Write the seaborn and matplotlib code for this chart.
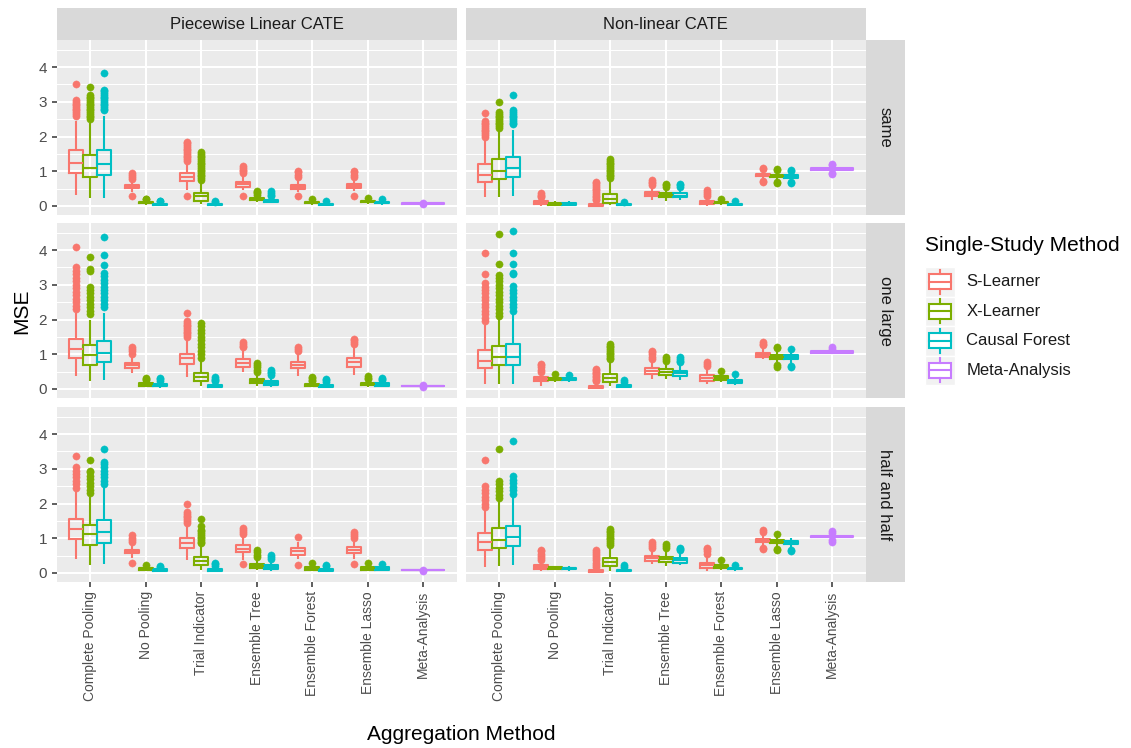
import numpy as np
import pandas as pd
import matplotlib
matplotlib.use("Agg")
import matplotlib.pyplot as plt
import seaborn as sns
from matplotlib.patches import Rectangle

plt.rcParams['font.family'] = ['Liberation Sans', 'DejaVu Sans']

methods = ["Complete Pooling", "No Pooling", "Trial Indicator", "Ensemble Tree",
           "Ensemble Forest", "Ensemble Lasso", "Meta-Analysis"]
learners = ["S-Learner", "X-Learner", "Causal Forest"]
cates = ["Piecewise Linear CATE", "Non-linear CATE"]
designs = ["same", "one large", "half and half"]
legend_labels = ["S-Learner", "X-Learner", "Causal Forest", "Meta-Analysis"]
palette = {"S-Learner": "#F8766D", "X-Learner": "#7CAE00",
           "Causal Forest": "#00BFC4", "Meta-Analysis": "#C77CFF"}

# Box statistics (lower whisker, Q1, median, Q3, upper whisker), order:
# CP-S, CP-X, CP-CF, NP-S, NP-X, NP-CF, TI-S, TI-X, TI-CF, ET-S, ET-X, ET-CF,
# EF-S, EF-X, EF-CF, EL-S, EL-X, EL-CF, Meta-Analysis
pw_same_box = [
    (0.33, 0.96, 1.25, 1.60, 2.45), (0.23, 0.83, 1.09, 1.48, 2.40), (0.23, 0.89, 1.22, 1.62, 2.60),
    (0.40, 0.51, 0.555, 0.60, 0.72), (0.04, 0.08, 0.10, 0.12, 0.17), (0.01, 0.04, 0.055, 0.07, 0.11),
    (0.45, 0.72, 0.83, 0.94, 1.25), (0.05, 0.15, 0.28, 0.37, 0.69), (0.01, 0.03, 0.045, 0.06, 0.10),
    (0.45, 0.55, 0.62, 0.69, 0.88), (0.12, 0.17, 0.20, 0.23, 0.30), (0.08, 0.12, 0.15, 0.18, 0.26),
    (0.40, 0.50, 0.555, 0.60, 0.74), (0.04, 0.08, 0.10, 0.12, 0.17), (0.01, 0.04, 0.055, 0.07, 0.11),
    (0.42, 0.52, 0.575, 0.62, 0.76), (0.06, 0.11, 0.13, 0.15, 0.20), (0.04, 0.08, 0.10, 0.12, 0.16),
    (0.066, 0.07, 0.072, 0.074, 0.078)]
pw_same_out = [
    [2.6, 2.65, 2.7, 2.75, 2.8, 2.85, 2.9, 2.95, 3.0, 3.05, 3.5],
    [2.5, 2.55, 2.6, 2.65, 2.7, 2.75, 2.8, 2.85, 2.9, 2.95, 3.0, 3.05, 3.1, 3.15, 3.2, 3.44],
    [2.75, 2.8, 2.85, 2.9, 2.95, 3.0, 3.05, 3.1, 3.15, 3.2, 3.25, 3.3, 3.35, 3.82],
    [0.3, 0.78, 0.84, 0.9, 0.96], [0.19, 0.21], [0.13, 0.15],
    [0.3, 1.3, 1.35, 1.4, 1.45, 1.5, 1.55, 1.6, 1.65, 1.7, 1.75, 1.8, 1.85],
    [0.75, 0.8, 0.85, 0.9, 0.95, 1.0, 1.05, 1.1, 1.15, 1.2, 1.25, 1.3, 1.35, 1.4, 1.45, 1.5, 1.55],
    [0.12, 0.14],
    [0.3, 0.95, 1.0, 1.05, 1.1, 1.15], [0.33, 0.37, 0.41, 0.44], [0.29, 0.33, 0.37, 0.42],
    [0.3, 0.82, 0.9, 0.97, 1.02], [0.19], [0.13],
    [0.3, 0.83, 0.9, 0.97, 1.02], [0.22], [0.19],
    [0.05, 0.09]]

nl_same_box = [
    (0.27, 0.70, 0.90, 1.20, 1.90), (0.27, 0.77, 1.02, 1.35, 2.15), (0.30, 0.83, 1.10, 1.42, 2.20),
    (0.01, 0.06, 0.09, 0.13, 0.20), (0.01, 0.04, 0.06, 0.08, 0.12), (0.01, 0.04, 0.06, 0.08, 0.12),
    (0.00, 0.01, 0.02, 0.05, 0.10), (0.03, 0.09, 0.21, 0.35, 0.72), (0.00, 0.02, 0.04, 0.05, 0.09),
    (0.17, 0.28, 0.34, 0.40, 0.56), (0.15, 0.25, 0.31, 0.37, 0.54), (0.17, 0.25, 0.30, 0.37, 0.50),
    (0.01, 0.05, 0.10, 0.14, 0.26), (0.04, 0.08, 0.10, 0.12, 0.17), (0.01, 0.04, 0.055, 0.07, 0.11),
    (0.80, 0.85, 0.89, 0.93, 1.00), (0.76, 0.82, 0.86, 0.90, 0.98), (0.75, 0.81, 0.85, 0.89, 0.96),
    (1.02, 1.05, 1.07, 1.09, 1.14)]
nl_same_out = [
    [2.0, 2.05, 2.1, 2.15, 2.2, 2.25, 2.3, 2.35, 2.4, 2.45, 2.69],
    [2.25, 2.3, 2.35, 2.4, 2.45, 2.5, 2.55, 2.6, 2.65, 2.7, 2.98],
    [2.35, 2.4, 2.45, 2.5, 2.55, 2.6, 2.65, 2.7, 2.75, 3.2],
    [0.25, 0.29, 0.33, 0.36], [0.14], [0.14],
    [0.16, 0.2, 0.25, 0.3, 0.35, 0.4, 0.45, 0.5, 0.55, 0.6, 0.65, 0.7],
    [0.8, 0.85, 0.9, 0.95, 1.0, 1.05, 1.1, 1.15, 1.2, 1.25, 1.3, 1.35],
    [0.11],
    [0.6, 0.65, 0.7, 0.75], [0.56, 0.6, 0.64], [0.56, 0.6, 0.64],
    [0.3, 0.35, 0.4, 0.45], [0.19], [0.13],
    [0.68, 0.72, 1.07, 1.1], [0.66, 0.69, 1.04, 1.07], [0.65, 0.68, 1.02, 1.05],
    [0.92, 0.96, 1.18, 1.22]]

pw_one_box = [
    (0.37, 0.89, 1.14, 1.43, 2.20), (0.22, 0.70, 0.99, 1.27, 2.00), (0.25, 0.77, 1.05, 1.38, 2.20),
    (0.45, 0.60, 0.68, 0.76, 0.95), (0.05, 0.10, 0.13, 0.16, 0.24), (0.04, 0.08, 0.11, 0.14, 0.22),
    (0.35, 0.73, 0.89, 1.02, 1.43), (0.09, 0.22, 0.35, 0.47, 0.84), (0.03, 0.07, 0.09, 0.12, 0.19),
    (0.50, 0.63, 0.74, 0.85, 1.10), (0.10, 0.18, 0.23, 0.30, 0.45), (0.06, 0.11, 0.16, 0.22, 0.36),
    (0.38, 0.59, 0.69, 0.78, 0.92), (0.05, 0.09, 0.12, 0.14, 0.20), (0.04, 0.07, 0.10, 0.12, 0.18),
    (0.41, 0.63, 0.77, 0.89, 1.20), (0.07, 0.12, 0.15, 0.18, 0.26), (0.06, 0.10, 0.13, 0.16, 0.24),
    (0.086, 0.09, 0.092, 0.094, 0.098)]
pw_one_out = [
    [2.3, 2.4, 2.5, 2.6, 2.7, 2.8, 2.9, 3.0, 3.1, 3.2, 3.3, 3.4, 3.5, 4.1],
    [2.15, 2.25, 2.35, 2.45, 2.55, 2.65, 2.75, 2.85, 2.95, 3.4, 3.46, 3.81],
    [2.35, 2.45, 2.55, 2.65, 2.75, 2.85, 2.95, 3.05, 3.15, 3.25, 3.35, 3.58, 3.85, 4.37],
    [1.02, 1.08, 1.14, 1.2], [0.27, 0.3, 0.33], [0.24, 0.28, 0.31],
    [1.5, 1.55, 1.6, 1.65, 1.7, 1.75, 1.8, 1.85, 1.9, 1.95, 2.2],
    [0.9, 1.0, 1.1, 1.2, 1.3, 1.4, 1.5, 1.6, 1.7, 1.8, 1.9],
    [0.22, 0.26, 0.3, 0.34],
    [1.2, 1.25, 1.3, 1.34], [0.5, 0.56, 0.62, 0.68, 0.74], [0.4, 0.45, 0.5, 0.56],
    [1.02, 1.1, 1.16, 1.21], [0.23, 0.27, 0.31, 0.35], [0.21, 0.25, 0.3],
    [1.3, 1.35, 1.4, 1.45], [0.29, 0.33, 0.37], [0.26, 0.29, 0.32],
    [0.07, 0.11]]

nl_one_box = [
    (0.15, 0.59, 0.81, 1.11, 1.85), (0.15, 0.68, 0.92, 1.24, 2.05), (0.15, 0.70, 0.93, 1.30, 2.15),
    (0.10, 0.24, 0.29, 0.34, 0.45), (0.20, 0.26, 0.29, 0.32, 0.38), (0.19, 0.25, 0.28, 0.31, 0.37),
    (0.00, 0.03, 0.06, 0.10, 0.18), (0.08, 0.20, 0.33, 0.44, 0.78), (0.03, 0.07, 0.09, 0.12, 0.18),
    (0.30, 0.44, 0.52, 0.60, 0.82), (0.28, 0.41, 0.49, 0.57, 0.78), (0.25, 0.38, 0.45, 0.53, 0.74),
    (0.13, 0.23, 0.32, 0.40, 0.62), (0.20, 0.27, 0.32, 0.37, 0.45), (0.12, 0.17, 0.22, 0.27, 0.34),
    (0.85, 0.92, 0.98, 1.05, 1.20), (0.78, 0.87, 0.93, 0.99, 1.10), (0.75, 0.85, 0.91, 0.97, 1.08),
    (1.01, 1.05, 1.065, 1.08, 1.12)]
nl_one_out = [
    [1.95, 2.05, 2.15, 2.25, 2.35, 2.45, 2.55, 2.65, 2.75, 2.85, 2.95, 3.05, 3.3, 3.91],
    [2.1, 2.2, 2.3, 2.4, 2.5, 2.6, 2.7, 2.8, 2.9, 3.0, 3.1, 3.2, 3.27, 3.61, 4.47],
    [2.25, 2.35, 2.45, 2.55, 2.65, 2.75, 2.85, 2.98, 3.3, 3.35, 3.6, 3.92, 4.56],
    [0.5, 0.56, 0.62, 0.68, 0.72], [0.42], [0.41],
    [0.22, 0.26, 0.3, 0.34, 0.38, 0.42, 0.46, 0.5, 0.54, 0.58],
    [0.85, 0.9, 0.95, 1.0, 1.05, 1.1, 1.15, 1.2, 1.25, 1.3],
    [0.21, 0.25],
    [0.87, 0.93, 1.0, 1.06, 1.1], [0.82, 0.87, 0.92], [0.77, 0.82, 0.87, 0.92],
    [0.67, 0.72, 0.78], [0.53], [0.44],
    [1.26, 1.3, 1.35], [0.64, 0.68, 1.18, 1.21], [0.62, 0.66, 1.16],
    [1.16, 1.2]]

pw_half_box = [
    (0.40, 0.98, 1.27, 1.56, 2.40), (0.24, 0.80, 1.12, 1.39, 2.20), (0.27, 0.86, 1.19, 1.53, 2.50),
    (0.42, 0.57, 0.62, 0.67, 0.80), (0.06, 0.10, 0.13, 0.15, 0.21), (0.03, 0.07, 0.09, 0.11, 0.16),
    (0.38, 0.72, 0.87, 1.00, 1.40), (0.09, 0.24, 0.35, 0.47, 0.80), (0.03, 0.06, 0.09, 0.11, 0.18),
    (0.38, 0.59, 0.70, 0.80, 1.05), (0.08, 0.14, 0.19, 0.25, 0.40), (0.06, 0.11, 0.16, 0.22, 0.36),
    (0.40, 0.53, 0.62, 0.71, 0.90), (0.06, 0.10, 0.14, 0.17, 0.26), (0.03, 0.07, 0.09, 0.11, 0.16),
    (0.40, 0.58, 0.67, 0.74, 0.90), (0.06, 0.10, 0.14, 0.17, 0.26), (0.05, 0.09, 0.13, 0.16, 0.24),
    (0.076, 0.08, 0.082, 0.084, 0.088)]
pw_half_out = [
    [2.45, 2.55, 2.65, 2.75, 2.85, 2.95, 3.05, 3.37],
    [2.3, 2.4, 2.5, 2.6, 2.7, 2.8, 2.9, 2.95, 3.25],
    [2.55, 2.65, 2.75, 2.85, 2.95, 3.05, 3.15, 3.2, 3.58],
    [0.3, 0.88, 0.95, 1.02, 1.08], [0.24], [0.18, 0.2],
    [1.45, 1.5, 1.55, 1.6, 1.65, 1.7, 1.75, 2.0],
    [0.85, 0.9, 0.95, 1.0, 1.05, 1.1, 1.15, 1.2, 1.25, 1.35, 1.55],
    [0.21, 0.25, 0.3],
    [0.26, 1.12, 1.18, 1.24, 1.3], [0.45, 0.52, 0.6, 0.67], [0.4, 0.46, 0.53],
    [0.24, 1.04], [0.29], [0.19, 0.22],
    [0.26, 1.0, 1.06, 1.12, 1.17], [0.29], [0.27],
    [0.06, 0.1]]

nl_half_box = [
    (0.18, 0.66, 0.88, 1.15, 1.85), (0.20, 0.73, 0.96, 1.29, 2.10), (0.22, 0.77, 1.05, 1.36, 2.20),
    (0.06, 0.12, 0.17, 0.22, 0.34), (0.08, 0.12, 0.14, 0.16, 0.21), (0.07, 0.11, 0.13, 0.15, 0.20),
    (0.00, 0.02, 0.04, 0.08, 0.16), (0.06, 0.20, 0.33, 0.44, 0.78), (0.03, 0.06, 0.08, 0.10, 0.15),
    (0.25, 0.35, 0.42, 0.49, 0.69), (0.20, 0.32, 0.39, 0.47, 0.67), (0.22, 0.30, 0.37, 0.44, 0.62),
    (0.07, 0.13, 0.22, 0.30, 0.52), (0.08, 0.13, 0.17, 0.22, 0.33), (0.07, 0.11, 0.13, 0.15, 0.20),
    (0.78, 0.88, 0.93, 0.98, 1.10), (0.75, 0.85, 0.90, 0.95, 1.05), (0.72, 0.83, 0.88, 0.93, 1.02),
    (0.98, 1.03, 1.05, 1.07, 1.12)]
nl_half_out = [
    [1.9, 2.0, 2.1, 2.2, 2.3, 2.4, 2.5, 3.25],
    [2.15, 2.25, 2.35, 2.45, 2.55, 2.65, 3.58],
    [2.28, 2.38, 2.48, 2.58, 2.68, 2.78, 3.8],
    [0.38, 0.44, 0.5, 0.56, 0.62, 0.67], [], [],
    [0.18, 0.24, 0.3, 0.36, 0.42, 0.48, 0.54, 0.6, 0.66],
    [0.82, 0.87, 0.92, 0.97, 1.02, 1.07, 1.12, 1.17, 1.22, 1.27],
    [0.18, 0.22],
    [0.72, 0.78, 0.84, 0.88], [0.72, 0.78, 0.83], [0.66, 0.7, 0.73],
    [0.56, 0.62, 0.68, 0.73], [0.36], [0.23],
    [0.68, 0.72, 1.18, 1.25], [0.66, 0.69, 1.12], [0.64, 0.67],
    [0.9, 0.94, 1.16, 1.2]]

panel_stats = {
    ("Piecewise Linear CATE", "same"): (pw_same_box, pw_same_out),
    ("Non-linear CATE", "same"): (nl_same_box, nl_same_out),
    ("Piecewise Linear CATE", "one large"): (pw_one_box, pw_one_out),
    ("Non-linear CATE", "one large"): (nl_one_box, nl_one_out),
    ("Piecewise Linear CATE", "half and half"): (pw_half_box, pw_half_out),
    ("Non-linear CATE", "half and half"): (nl_half_box, nl_half_out),
}

# Build long-form rows whose quartiles reproduce the box statistics above
K = 100
rows = []
for (cate, design), (boxes, outs) in panel_stats.items():
    keys = [(m, l) for m in methods[:-1] for l in learners] + [("Meta-Analysis", "Meta-Analysis")]
    for (m, l), st, ol in zip(keys, boxes, outs):
        vals = [v for v in st for _ in range(K)] + list(ol)
        for v in vals:
            rows.append((cate, design, m, l, v))
df = pd.DataFrame(rows, columns=["cate", "design", "method", "learner", "mse"])

# ---- figure layout (pixels) ----
W, H = 1131, 748
fig = plt.figure(figsize=(W / 100, H / 100), dpi=100)
fig.patch.set_facecolor("white")

over = fig.add_axes([0, 0, 1, 1])
over.set_xlim(0, W)
over.set_ylim(H, 0)
over.axis("off")

col_x = [57, 466]
pw = 399.5
row_y = [40, 223, 407]
ph = 175
strip_top = 8
strip_r = 39

LW = 1.5
TXT = "#1A1A1A"


def px_rect(x, y, w, h):
    return [x / W, 1 - (y + h) / H, w / W, h / H]


for c, cate in enumerate(cates):
    over.add_patch(Rectangle((col_x[c], strip_top), pw, row_y[0] - strip_top,
                             facecolor="#D9D9D9", edgecolor="none"))
    over.text(col_x[c] + pw / 2, (strip_top + row_y[0]) / 2, cate, ha="center", va="center",
              fontsize=12, color=TXT)
for r, design in enumerate(designs):
    x0 = col_x[1] + pw
    over.add_patch(Rectangle((x0, row_y[r]), strip_r, ph, facecolor="#D9D9D9", edgecolor="none"))
    over.text(x0 + strip_r / 2, row_y[r] + ph / 2, design, ha="center", va="center",
              rotation=-90, fontsize=12, color=TXT)

for r, design in enumerate(designs):
    for c, cate in enumerate(cates):
        ax = fig.add_axes(px_rect(col_x[c], row_y[r], pw, ph))
        ax.set_facecolor("#EBEBEB")
        sub = df[(df.cate == cate) & (df.design == design)]
        main = sub[sub.method != "Meta-Analysis"]
        meta = sub[sub.method == "Meta-Analysis"]
        common = dict(x="method", y="mse", order=methods, fill=False, width=0.75,
                      linewidth=LW, fliersize=5.2, showcaps=False, whis=1.5,
                      flierprops={"marker": "o"}, ax=ax)
        sns.boxplot(data=main, hue="learner", hue_order=learners, palette=palette,
                    gap=0, dodge=True, legend=False, **common)
        sns.boxplot(data=meta, color=palette["Meta-Analysis"], **common)
        for ln in ax.lines:
            if ln.get_marker() == "o":
                col = ln.get_markeredgecolor()
                ln.set_markerfacecolor(col)
                ln.set_markeredgecolor(col)
                ln.set_markeredgewidth(0.3)
        ax.set_xlim(-0.6, 6.6)
        ax.set_ylim(-0.26, 4.78)
        ax.set_xticks(range(len(methods)))
        ax.set_yticks([0, 1, 2, 3, 4])
        ax.set_yticks([0.5, 1.5, 2.5, 3.5, 4.5], minor=True)
        ax.set_axisbelow(True)
        ax.grid(True, which="major", color="white", linewidth=1.5)
        ax.yaxis.grid(True, which="minor", color="white", linewidth=0.75)
        ax.xaxis.grid(True, which="major", color="white", linewidth=1.5)
        for s in ax.spines.values():
            s.set_visible(False)
        ax.set_xlabel("")
        ax.set_ylabel("")
        ax.tick_params(which="minor", length=0)
        ax.tick_params(which="major", length=3.6, width=1.1, color="#333333",
                       labelcolor="#4D4D4D")
        ax.tick_params(axis="x", labelsize=10, pad=3)
        ax.tick_params(axis="y", labelsize=11, pad=3.5)
        if r == 2:
            ax.set_xticklabels(methods, rotation=90, ha="center", va="top")
        else:
            ax.tick_params(axis="x", length=0, labelbottom=False)
        if c == 0:
            ax.set_yticklabels(["0", "1", "2", "3", "4"])
        else:
            ax.tick_params(axis="y", length=0, labelleft=False)

# axis titles
over.text((col_x[0] + col_x[1] + pw) / 2, 734, "Aggregation Method", ha="center", va="center",
          fontsize=15, color="black")
over.text(22, (row_y[0] + row_y[2] + ph) / 2, "MSE", ha="center", va="center", rotation=90,
          fontsize=15, color="black")

# legend
over.text(925, 245, "Single-Study Method", ha="left", va="center", fontsize=15, color="black")
key = 29.5
ky0 = 267
for i, lab in enumerate(legend_labels):
    col = palette[lab]
    ky = ky0 + i * key
    kx = 925
    over.add_patch(Rectangle((kx, ky), key, key, facecolor="#F2F2F2", edgecolor="white", lw=1))
    over.plot([kx + key / 2] * 2, [ky + key * 0.1, ky + key * 0.25], color=col, lw=LW)
    over.plot([kx + key / 2] * 2, [ky + key * 0.75, ky + key * 0.9], color=col, lw=LW)
    over.add_patch(Rectangle((kx + key * 0.125, ky + key * 0.25), key * 0.75, key * 0.5,
                             facecolor="white", edgecolor=col, lw=LW))
    over.plot([kx + key * 0.125, kx + key * 0.875], [ky + key / 2] * 2, color=col, lw=LW)
    over.text(kx + key + 12, ky + key / 2, lab, ha="left", va="center", fontsize=12, color=TXT)

fig.savefig("out.png", dpi=100)
